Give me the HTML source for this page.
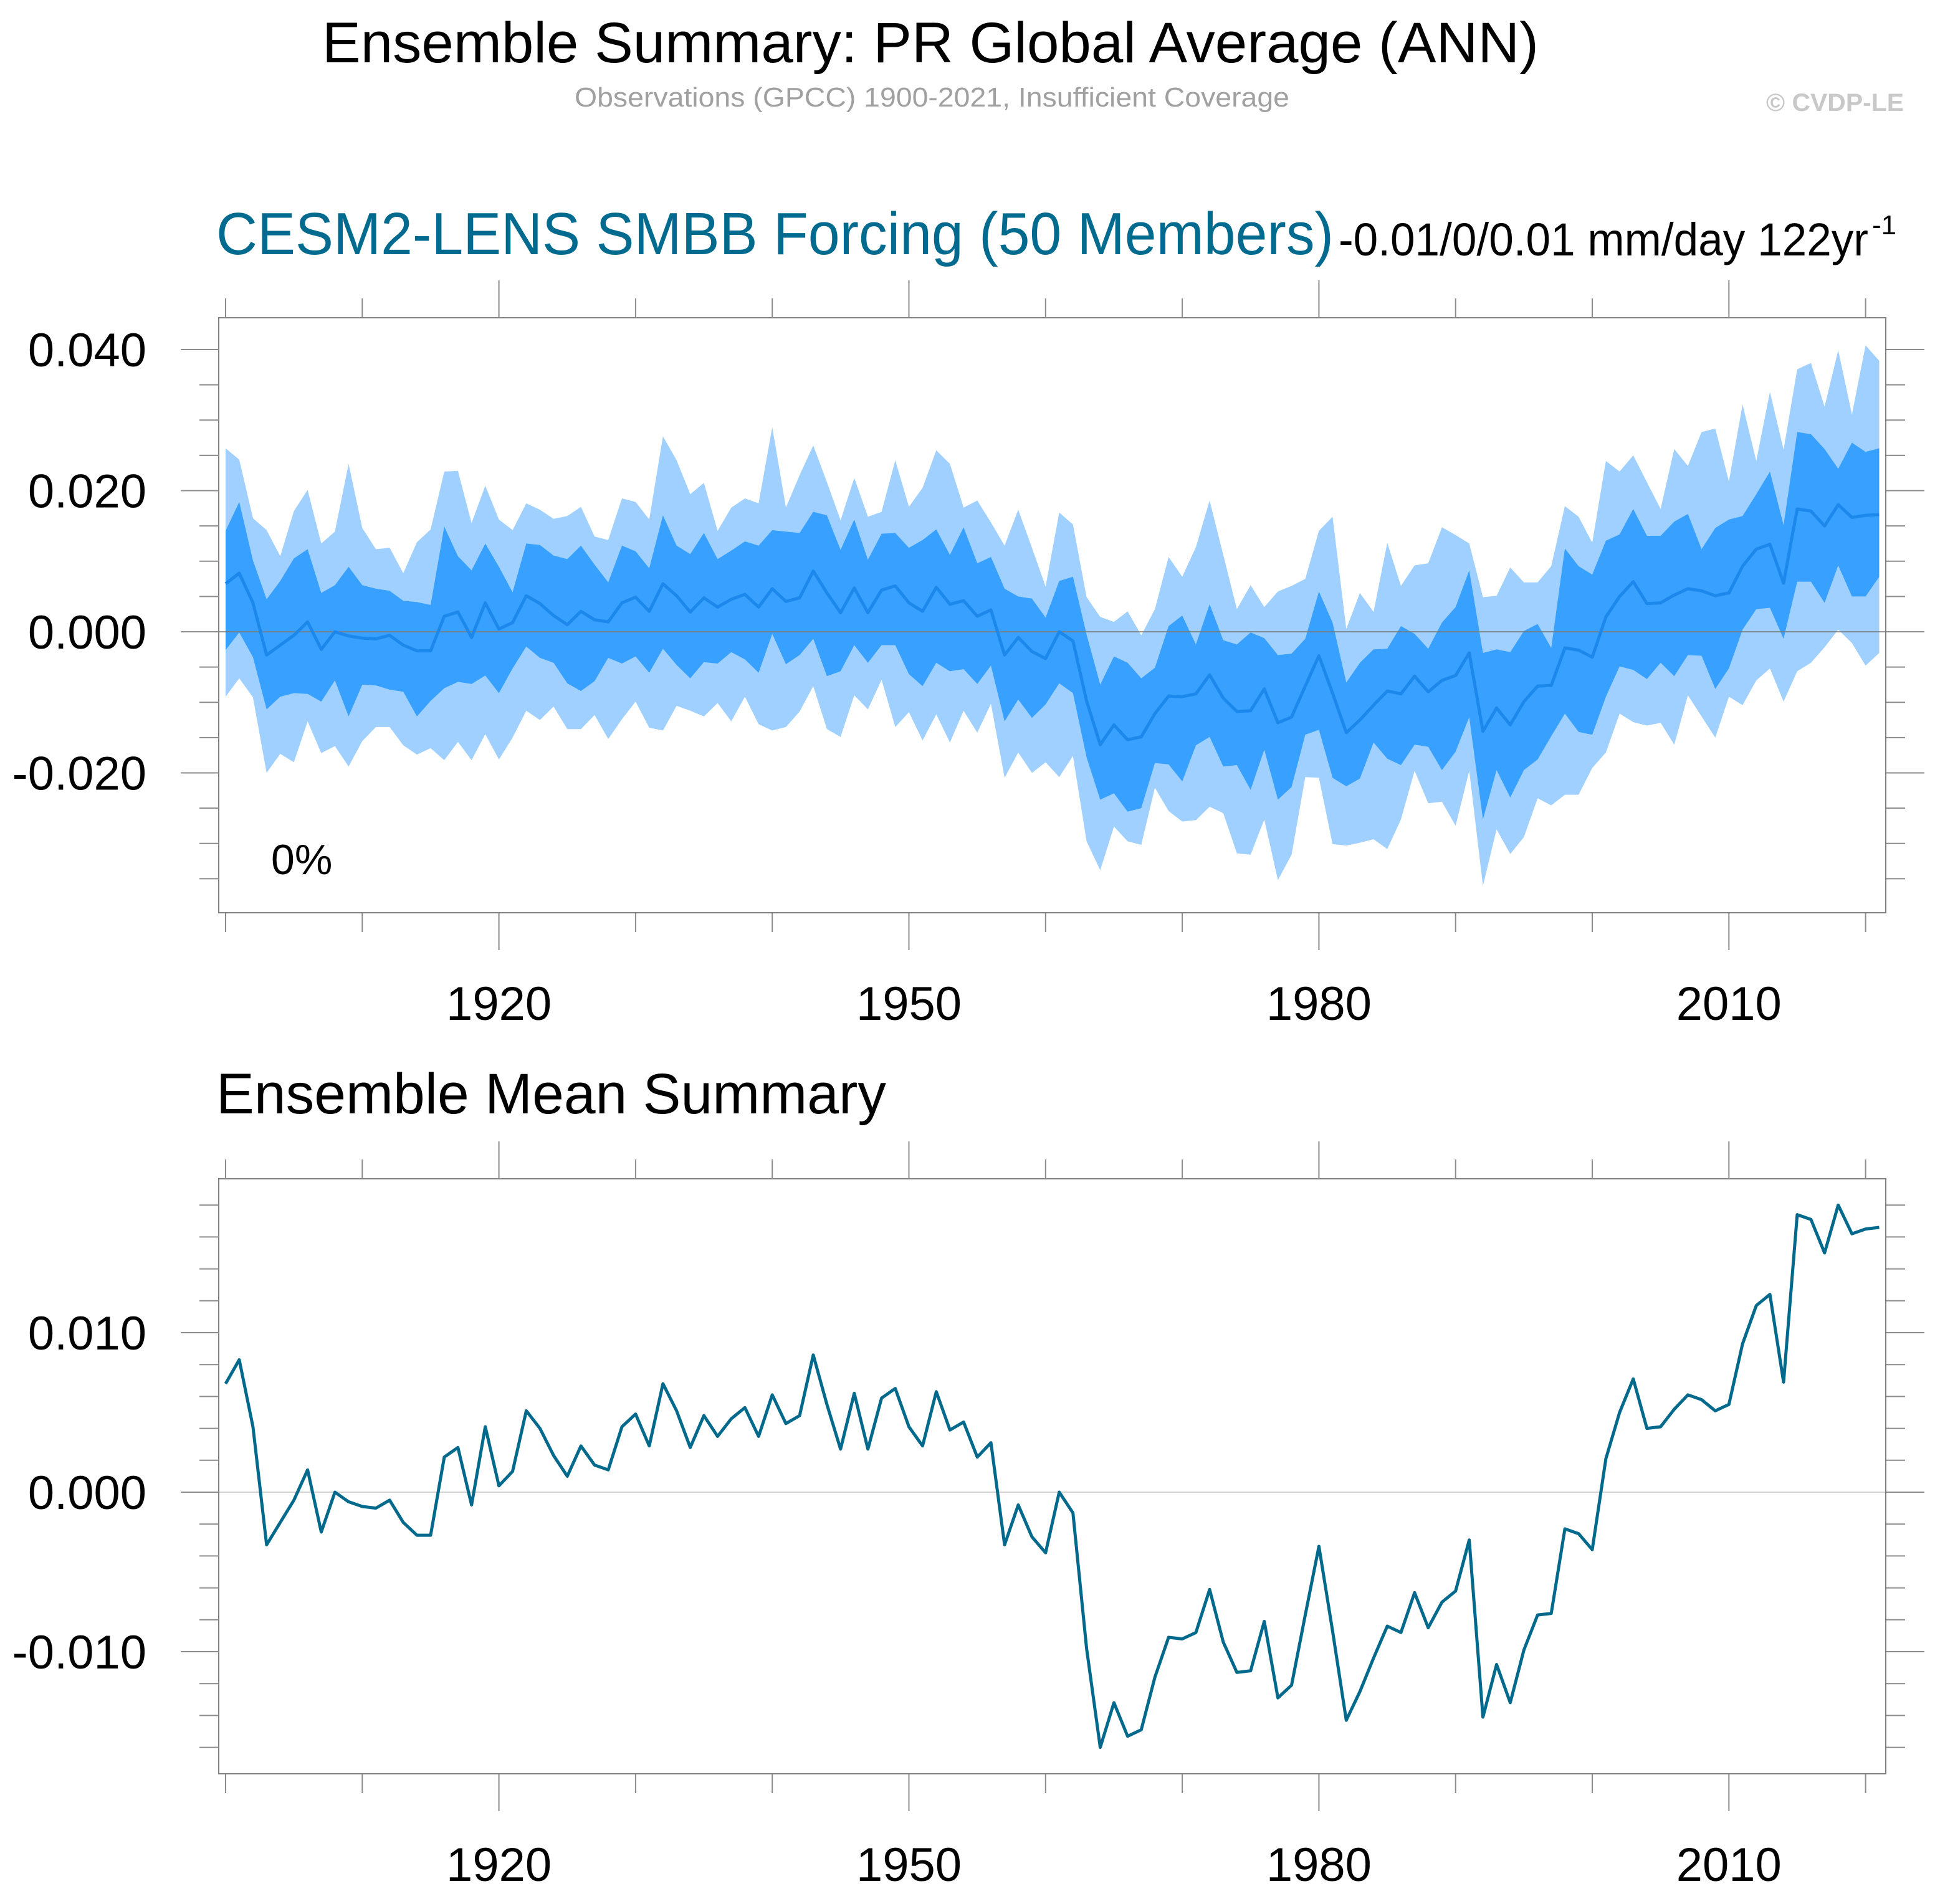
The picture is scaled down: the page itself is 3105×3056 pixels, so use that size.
<!DOCTYPE html>
<html><head><meta charset="utf-8">
<style>
html,body{margin:0;padding:0;background:#fff;}
svg{display:block;font-family:"Liberation Sans",Arial,sans-serif;}
</style></head>
<body>
<svg id="chart" xmlns="http://www.w3.org/2000/svg" width="3105" height="3056" viewBox="0 0 3105 3056">
<rect width="3105" height="3056" fill="#fff"/>
<text x="517" y="100" font-size="92" textLength="1952" lengthAdjust="spacingAndGlyphs" fill="#000">Ensemble Summary: PR Global Average (ANN)</text>
<text x="922" y="171" font-size="44" textLength="1147" lengthAdjust="spacingAndGlyphs" fill="#a0a0a0">Observations (GPCC) 1900-2021, Insufficient Coverage</text>
<text x="2834" y="178" font-size="40" font-weight="bold" textLength="221" lengthAdjust="spacingAndGlyphs" fill="#c8c8c8">© CVDP-LE</text>
<text x="347" y="408" font-size="96" textLength="1793" lengthAdjust="spacingAndGlyphs" fill="#006b8f">CESM2-LENS SMBB Forcing (50 Members)</text>
<text x="2148" y="410" font-size="74" textLength="850" lengthAdjust="spacingAndGlyphs" fill="#000">-0.01/0/0.01 mm/day 122yr</text>
<text x="3004" y="376" font-size="44" fill="#000">-1</text>
<text x="347" y="1787" font-size="92" textLength="1075" lengthAdjust="spacingAndGlyphs" fill="#000">Ensemble Mean Summary</text>
<g id="p1"></g>
<g id="p2"></g>
</svg>
<script>
const startYear = 1900;
const lightUpper = [0.0260,0.0244,0.0161,0.0144,0.0107,0.0171,0.0201,0.0125,0.0142,0.0238,
0.0147,0.0117,0.0119,0.0083,0.0127,0.0145,0.0227,0.0228,0.0154,0.0207,
0.0159,0.0144,0.0182,0.0173,0.0160,0.0164,0.0177,0.0135,0.0130,0.0189,
0.0184,0.0159,0.0277,0.0243,0.0195,0.0211,0.0143,0.0176,0.0189,0.0182,
0.0290,0.0176,0.0222,0.0264,0.0212,0.0158,0.0218,0.0163,0.0170,0.0243,
0.0177,0.0204,0.0257,0.0238,0.0176,0.0186,0.0155,0.0122,0.0173,0.0119,
0.0064,0.0169,0.0152,0.0049,0.0021,0.0014,0.0029,-0.0005,0.0032,0.0106,
0.0078,0.0120,0.0186,0.0109,0.0032,0.0066,0.0035,0.0057,0.0065,0.0075,
0.0143,0.0163,0.0004,0.0055,0.0028,0.0126,0.0065,0.0094,0.0097,0.0148,
0.0137,0.0125,0.0049,0.0051,0.0091,0.0070,0.0070,0.0093,0.0178,0.0163,
0.0126,0.0242,0.0227,0.0250,0.0212,0.0174,0.0259,0.0235,0.0283,0.0288,
0.0213,0.0322,0.0242,0.0340,0.0258,0.0372,0.0381,0.0319,0.0399,0.0308,
0.0406,0.0384];
const darkUpper = [0.0143,0.0184,0.0101,0.0046,0.0072,0.0104,0.0117,0.0055,0.0066,0.0092,
0.0066,0.0061,0.0058,0.0044,0.0042,0.0038,0.0149,0.0107,0.0087,0.0125,
0.0092,0.0056,0.0125,0.0123,0.0108,0.0103,0.0122,0.0095,0.0070,0.0122,
0.0114,0.0090,0.0165,0.0122,0.0110,0.0140,0.0103,0.0115,0.0128,0.0122,
0.0144,0.0142,0.0140,0.0170,0.0165,0.0116,0.0159,0.0102,0.0139,0.0140,
0.0119,0.0130,0.0145,0.0109,0.0148,0.0097,0.0106,0.0061,0.0050,0.0047,
0.0020,0.0072,0.0078,-0.0004,-0.0075,-0.0035,-0.0044,-0.0066,-0.0051,0.0008,
0.0023,-0.0018,0.0039,-0.0012,-0.0018,-0.0001,-0.0009,-0.0033,-0.0031,-0.0010,
0.0057,0.0013,-0.0072,-0.0044,-0.0025,-0.0024,0.0008,-0.0003,-0.0024,0.0013,
0.0035,0.0087,-0.0030,-0.0025,-0.0029,0.0001,0.0011,-0.0023,0.0118,0.0093,
0.0081,0.0129,0.0138,0.0174,0.0136,0.0136,0.0156,0.0167,0.0117,0.0147,
0.0159,0.0164,0.0195,0.0227,0.0151,0.0283,0.0280,0.0259,0.0231,0.0268,
0.0255,0.0260];
const ensMean = [0.0068,0.0083,0.0041,-0.0033,-0.0019,-0.0005,0.0014,-0.0025,0.0000,-0.0006,
-0.0009,-0.0010,-0.0005,-0.0019,-0.0027,-0.0027,0.0022,0.0028,-0.0008,0.0041,
0.0004,0.0013,0.0051,0.0040,0.0023,0.0010,0.0029,0.0017,0.0014,0.0041,
0.0049,0.0029,0.0068,0.0051,0.0028,0.0048,0.0035,0.0046,0.0053,0.0035,
0.0061,0.0043,0.0048,0.0086,0.0055,0.0027,0.0062,0.0027,0.0059,0.0065,
0.0041,0.0029,0.0063,0.0039,0.0044,0.0022,0.0031,-0.0033,-0.0008,-0.0028,
-0.0038,0.0000,-0.0013,-0.0098,-0.0160,-0.0132,-0.0153,-0.0149,-0.0116,-0.0091,
-0.0092,-0.0088,-0.0061,-0.0094,-0.0113,-0.0112,-0.0081,-0.0129,-0.0121,-0.0077,
-0.0034,-0.0087,-0.0143,-0.0125,-0.0104,-0.0084,-0.0088,-0.0063,-0.0085,-0.0069,
-0.0062,-0.0030,-0.0141,-0.0108,-0.0132,-0.0099,-0.0077,-0.0076,-0.0023,-0.0026,
-0.0036,0.0021,0.0050,0.0071,0.0040,0.0041,0.0052,0.0061,0.0058,0.0051,
0.0055,0.0093,0.0117,0.0124,0.0069,0.0174,0.0171,0.0150,0.0180,0.0162,
0.0165,0.0166];
const darkLower = [-0.0026,-0.0001,-0.0036,-0.0110,-0.0092,-0.0087,-0.0088,-0.0099,-0.0069,-0.0120,
-0.0075,-0.0076,-0.0082,-0.0085,-0.0120,-0.0098,-0.0080,-0.0071,-0.0074,-0.0062,
-0.0087,-0.0052,-0.0021,-0.0037,-0.0044,-0.0073,-0.0084,-0.0070,-0.0037,-0.0045,
-0.0035,-0.0058,-0.0024,-0.0047,-0.0066,-0.0043,-0.0045,-0.0029,-0.0039,-0.0058,
-0.0003,-0.0046,-0.0033,-0.0010,-0.0063,-0.0056,-0.0019,-0.0044,-0.0019,-0.0019,
-0.0060,-0.0077,-0.0044,-0.0056,-0.0053,-0.0074,-0.0048,-0.0127,-0.0096,-0.0122,
-0.0103,-0.0073,-0.0087,-0.0178,-0.0238,-0.0229,-0.0255,-0.0250,-0.0186,-0.0188,
-0.0212,-0.0161,-0.0149,-0.0191,-0.0189,-0.0224,-0.0167,-0.0238,-0.0220,-0.0146,
-0.0139,-0.0207,-0.0219,-0.0208,-0.0157,-0.0180,-0.0189,-0.0160,-0.0163,-0.0196,
-0.0170,-0.0121,-0.0266,-0.0196,-0.0235,-0.0196,-0.0181,-0.0148,-0.0116,-0.0142,
-0.0146,-0.0092,-0.0049,-0.0054,-0.0067,-0.0044,-0.0063,-0.0033,-0.0034,-0.0081,
-0.0052,0.0003,0.0032,0.0034,-0.0010,0.0071,0.0071,0.0041,0.0094,0.0050,
0.0050,0.0078];
const lightLower = [-0.0092,-0.0066,-0.0093,-0.0200,-0.0173,-0.0185,-0.0127,-0.0172,-0.0162,-0.0191,
-0.0155,-0.0135,-0.0135,-0.0161,-0.0174,-0.0165,-0.0182,-0.0156,-0.0182,-0.0145,
-0.0181,-0.0150,-0.0112,-0.0125,-0.0106,-0.0138,-0.0138,-0.0118,-0.0152,-0.0124,
-0.0099,-0.0136,-0.0140,-0.0105,-0.0112,-0.0120,-0.0101,-0.0127,-0.0092,-0.0131,
-0.0140,-0.0135,-0.0113,-0.0077,-0.0138,-0.0149,-0.0090,-0.0110,-0.0068,-0.0135,
-0.0114,-0.0154,-0.0117,-0.0157,-0.0112,-0.0143,-0.0102,-0.0207,-0.0171,-0.0200,
-0.0185,-0.0206,-0.0176,-0.0297,-0.0338,-0.0276,-0.0297,-0.0302,-0.0221,-0.0254,
-0.0269,-0.0267,-0.0248,-0.0257,-0.0314,-0.0316,-0.0266,-0.0352,-0.0316,-0.0206,
-0.0207,-0.0301,-0.0303,-0.0299,-0.0294,-0.0308,-0.0266,-0.0197,-0.0243,-0.0241,
-0.0275,-0.0197,-0.0360,-0.0280,-0.0315,-0.0291,-0.0236,-0.0246,-0.0231,-0.0231,
-0.0193,-0.0171,-0.0116,-0.0128,-0.0133,-0.0129,-0.0160,-0.0090,-0.0120,-0.0150,
-0.0092,-0.0104,-0.0069,-0.0052,-0.0099,-0.0056,-0.0044,-0.0022,0.0003,-0.0016,
-0.0048,-0.0030];
const yTicks1 = [0.04,0.02,0,-0.02];
const yTickLabels1 = ["0.040","0.020","0.000","-0.020"];
const yTicks2 = [0.01,0,-0.01];
const yTickLabels2 = ["0.010","0.000","-0.010"];
const xLabelYears = [1920,1950,1980,2010];

const NS = "http://www.w3.org/2000/svg";
function mk(parent, tag, attrs){ const e=document.createElementNS(NS,tag); for(const k in attrs) e.setAttribute(k,attrs[k]); parent.appendChild(e); return e; }
const L=351, R=3026;
function xScale(yr){ return 362 + (yr-1900)*21.93; }

function panel(g, top, bottom, y0, pxPerUnit, yMin, yMax, minorStep, yTicks, yLabels){
  const y = v => y0 - v*pxPerUnit;
  const n0 = Math.ceil(yMin/minorStep-1e-6), n1 = Math.floor(yMax/minorStep+1e-6);
  for(let i=n0;i<=n1;i++){
    const v=i*minorStep, yy=y(v);
    const major = yTicks.some(t=>Math.abs(t-v)<1e-9);
    const tl=mk(g,'line',{x1:major?290:320,x2:L,y1:yy,y2:yy,stroke:'#8c8c8c','stroke-width':2});
    
    
    const tr=mk(g,'line',{x1:R,x2:major?3088:3057,y1:yy,y2:yy,stroke:'#8c8c8c','stroke-width':2});
    
    
  }
  yTicks.forEach((t,i)=>{
    const tx=mk(g,'text',{x:235,y:y(t)+27,'font-size':76,'text-anchor':'end',fill:'#000'});
    tx.textContent=yLabels[i];
    
    
  });
  for(let yr=1900; yr<=2020; yr+=10){
    const xx=xScale(yr); const major = xLabelYears.includes(yr);
    const a=mk(g,'line',{x1:xx,x2:xx,y1:top-(major?60:31),y2:top,stroke:'#8c8c8c','stroke-width':2});
    
    
    const b=mk(g,'line',{x1:xx,x2:xx,y1:bottom,y2:bottom+(major?60:31),stroke:'#8c8c8c','stroke-width':2});
    
    
  }
  xLabelYears.forEach(yr=>{
    const tx=mk(g,'text',{x:xScale(yr),y:bottom+172,'font-size':76,'text-anchor':'middle',fill:'#000'});
    tx.textContent=String(yr);
    
    
  });
  return y;
}

function bandPath(up, lo, y){
  let d='';
  up.forEach((v,i)=>{ d += (i?'L':'M') + xScale(startYear+i).toFixed(1)+','+y(v).toFixed(1); });
  for(let i=lo.length-1;i>=0;i--){ d += 'L'+xScale(startYear+i).toFixed(1)+','+y(lo[i]).toFixed(1); }
  return d+'Z';
}
function linePath(vals, y){
  return vals.map((v,i)=>(i?'L':'M')+xScale(startYear+i).toFixed(1)+','+y(v).toFixed(1)).join('');
}

const g1=document.getElementById('p1');
const y1 = panel(g1, 510, 1465, 1014, 11325, -0.0398, 0.0445, 0.005, yTicks1, yTickLabels1);
const lb=mk(g1,'path',{d:bandPath(lightUpper,lightLower,y1),fill:'#a0d0ff'});


const db=mk(g1,'path',{d:bandPath(darkUpper,darkLower,y1),fill:'#38a0ff'});


const z1=mk(g1,'line',{x1:L,x2:R,y1:y1(0),y2:y1(0),stroke:'#7a7a7a','stroke-width':2,'stroke-opacity':0.8});


const m1=mk(g1,'path',{d:linePath(ensMean,y1),fill:'none',stroke:'#1c88ec','stroke-width':5,'stroke-linejoin':'round'});


const f1=mk(g1,'rect',{x:L,y:510,width:R-L,height:1465-510,fill:'none',stroke:'#808080','stroke-width':2});


const pc=mk(g1,'text',{x:435,y:1403,'font-size':68,fill:'#000'});
pc.textContent='0%';



const g2=document.getElementById('p2');
const y2 = panel(g2, 1892, 2847, 2395, 25600, -0.0177, 0.0196, 0.002, yTicks2, yTickLabels2);
const z2=mk(g2,'line',{x1:L,x2:R,y1:y2(0),y2:y2(0),stroke:'#d0d0d0','stroke-width':2});


const m2=mk(g2,'path',{d:linePath(ensMean,y2),fill:'none',stroke:'#00698c','stroke-width':5,'stroke-linejoin':'round'});


const f2=mk(g2,'rect',{x:L,y:1892,width:R-L,height:2847-1892,fill:'none',stroke:'#808080','stroke-width':2});


</script>
</body></html>
